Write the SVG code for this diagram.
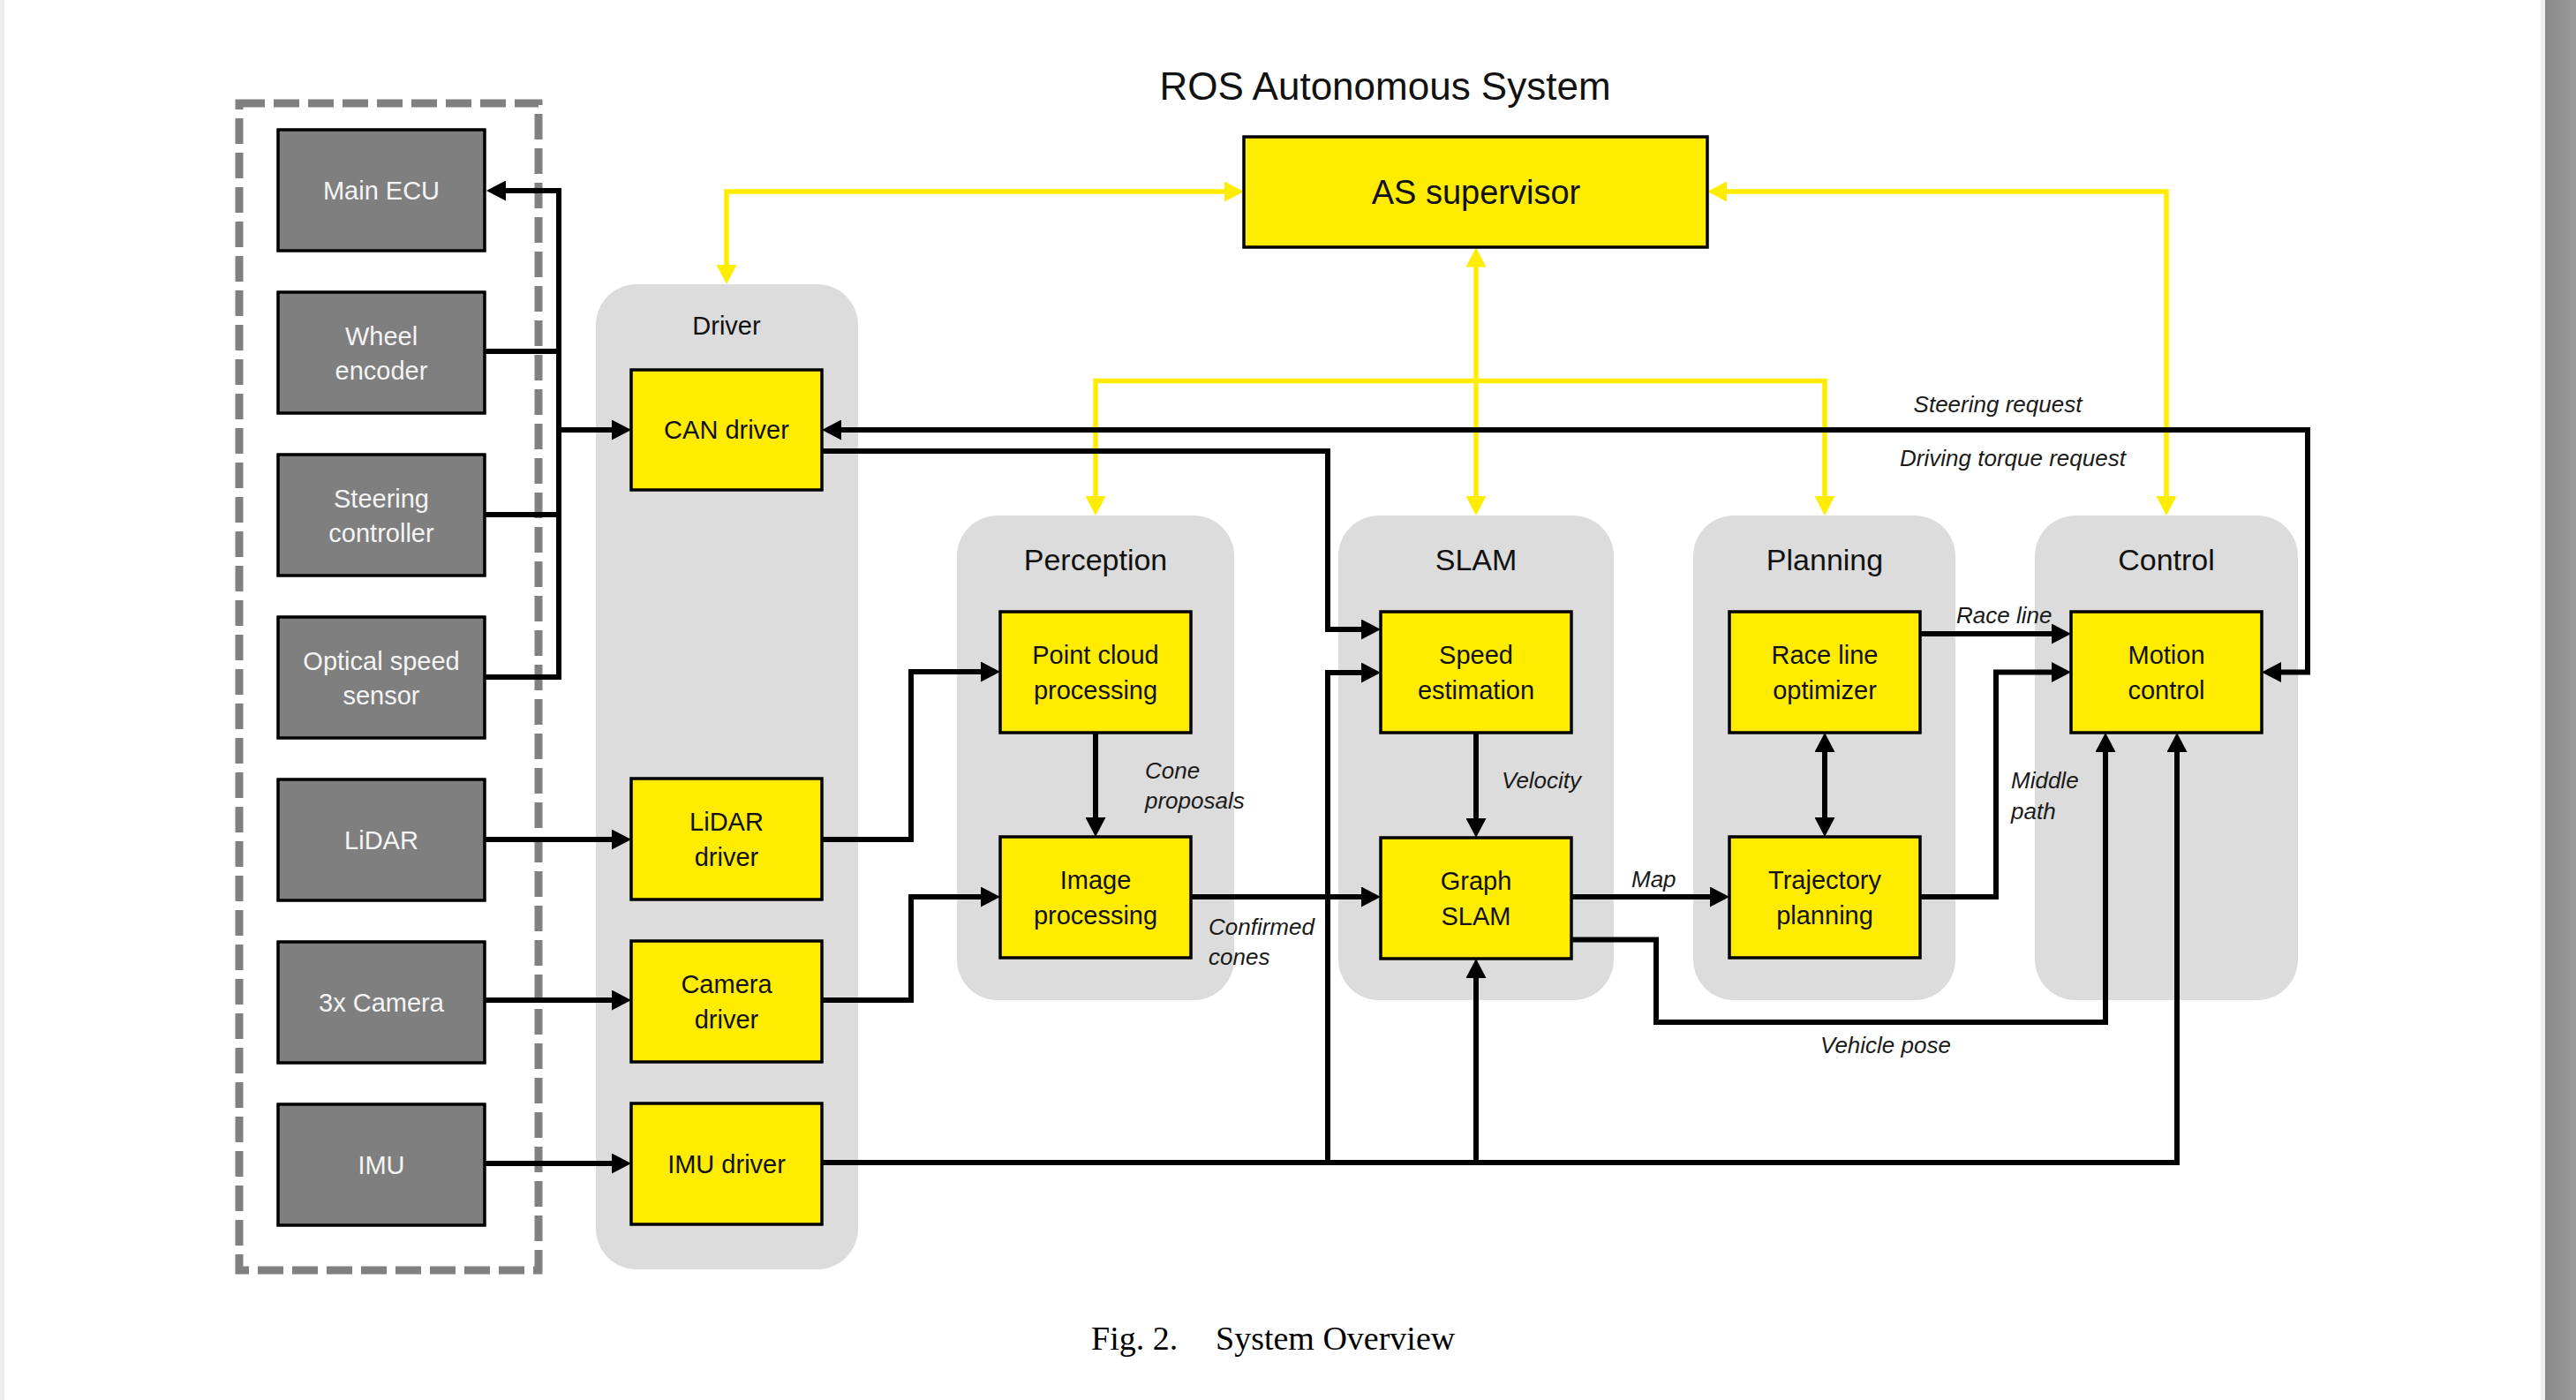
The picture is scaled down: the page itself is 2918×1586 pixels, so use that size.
<svg xmlns="http://www.w3.org/2000/svg" width="2918" height="1586" viewBox="0 0 2918 1586">
<defs>
  <linearGradient id="edge" x1="0" y1="0" x2="1" y2="0">
    <stop offset="0" stop-color="#898989"/>
    <stop offset="1" stop-color="#9a9a9a"/>
  </linearGradient>
  <marker id="ab" viewBox="0 0 22 23" refX="16" refY="11.5" markerWidth="22" markerHeight="23" markerUnits="userSpaceOnUse" orient="auto-start-reverse">
    <path d="M0,0 L22,11.5 L0,23 z" fill="#000"/>
  </marker>
  <marker id="ay" viewBox="0 0 22 23" refX="16" refY="11.5" markerWidth="22" markerHeight="23" markerUnits="userSpaceOnUse" orient="auto-start-reverse">
    <path d="M0,0 L22,11.5 L0,23 z" fill="#ffed00"/>
  </marker>
</defs>
<style>
  text{font-family:"Liberation Sans",Arial,sans-serif}
  .grp rect{fill:#dcdcdc}
  .grp text{font-size:34px;fill:#111;text-anchor:middle}
  .hw rect{fill:#7f7f7f;stroke:#000;stroke-width:3.5}
  .hw text{fill:#f4f4f4;font-size:29px;text-anchor:middle}
  .sw rect{fill:#ffec00;stroke:#000;stroke-width:3.5}
  .sw text{fill:#111;font-size:29px;text-anchor:middle}
  .bl{fill:none;stroke:#000;stroke-width:6}
  .yl{fill:none;stroke:#ffed00;stroke-width:5.5}
  .el{font-style:italic;font-size:26px;fill:#1a1a1a}
  .cap{font-family:"Liberation Serif","Times New Roman",serif;font-size:38px;fill:#000}
</style>

<rect x="0" y="0" width="2918" height="1586" fill="#ffffff"/>
<rect x="0" y="0" width="5" height="1586" fill="#eeeeee"/>
<rect x="2878" y="0" width="5" height="1586" fill="#efefef"/>
<rect x="2883" y="0" width="35" height="1586" fill="url(#edge)"/>

<text x="1569" y="113" style="font-size:44px" text-anchor="middle" fill="#111">ROS Autonomous System</text>

<!-- hardware dashed container -->
<rect id="hardware-frame" x="271" y="117" width="339" height="1322" fill="none" stroke="#808080" stroke-width="9" stroke-dasharray="29 10"/>

<!-- container groups -->
<g id="driver" class="grp"><rect x="675" y="322" width="297" height="1116" rx="46"/><text x="823" y="379" style="font-size:29px">Driver</text></g>
<g id="perception" class="grp"><rect x="1084" y="584" width="314" height="549" rx="46"/><text x="1241" y="646">Perception</text></g>
<g id="slam" class="grp"><rect x="1516" y="584" width="312" height="549" rx="46"/><text x="1672" y="646">SLAM</text></g>
<g id="planning" class="grp"><rect x="1918" y="584" width="297" height="549" rx="46"/><text x="2067" y="646">Planning</text></g>
<g id="control" class="grp"><rect x="2305" y="584" width="298" height="549" rx="46"/><text x="2454" y="646">Control</text></g>

<!-- connectors -->
<g id="connectors">
  <g id="yellow-links">
    <path class="yl" d="M1403,217 H823 V316" marker-start="url(#ay)" marker-end="url(#ay)"/>
    <path class="yl" d="M1940,217 H2454 V578" marker-start="url(#ay)" marker-end="url(#ay)"/>
    <path class="yl" d="M1672,286.5 V578" marker-start="url(#ay)" marker-end="url(#ay)"/>
    <path class="yl" d="M1241,578 V431.6 H2067 V578" marker-start="url(#ay)" marker-end="url(#ay)"/>
  </g>
  <g id="black-links">
    <path class="bl" d="M633,767 V216 H557" marker-end="url(#ab)"/>
    <path class="bl" d="M549,398 H633"/>
    <path class="bl" d="M549,583 H633"/>
    <path class="bl" d="M549,767 H636"/>
    <path class="bl" d="M633,487 H709" marker-end="url(#ab)"/>
    <path class="bl" d="M549,951 H709" marker-end="url(#ab)"/>
    <path class="bl" d="M549,1133 H709" marker-end="url(#ab)"/>
    <path class="bl" d="M549,1318 H709" marker-end="url(#ab)"/>
    <path class="bl" d="M931,951 H1032 V761 H1127" marker-end="url(#ab)"/>
    <path class="bl" d="M931,1133 H1032 V1016 H1127" marker-end="url(#ab)"/>
    <path class="bl" d="M1241,830 V942" marker-end="url(#ab)"/>
    <path class="bl" d="M1349,1016 H1558" marker-end="url(#ab)"/>
    <path class="bl" d="M931,511 H1504 V713 H1558" marker-end="url(#ab)"/>
    <path class="bl" d="M931,1317 H2466 V836" marker-end="url(#ab)"/>
    <path class="bl" d="M1504,1317 V762 H1558" marker-end="url(#ab)"/>
    <path class="bl" d="M1672,1317 V1092" marker-end="url(#ab)"/>
    <path class="bl" d="M1672,830 V943" marker-end="url(#ab)"/>
    <path class="bl" d="M1780,1016 H1953" marker-end="url(#ab)"/>
    <path class="bl" d="M1780,1064.5 H1876 V1158 H2385 V836" marker-end="url(#ab)"/>
    <path class="bl" d="M2067,836 V942" marker-start="url(#ab)" marker-end="url(#ab)"/>
    <path class="bl" d="M2175,718 H2340" marker-end="url(#ab)"/>
    <path class="bl" d="M2175,1016 H2261 V761.5 H2340" marker-end="url(#ab)"/>
    <path class="bl" d="M937,487 H2614 V761.5 H2568" marker-start="url(#ab)" marker-end="url(#ab)"/>
  </g>
  <g id="edge-labels">
    <text class="el" x="2263" y="467" text-anchor="middle">Steering request</text>
    <text class="el" x="2280" y="528" text-anchor="middle">Driving torque request</text>
    <text class="el" x="2216" y="706">Race line</text>
    <text class="el" x="2278" y="893">Middle</text>
    <text class="el" x="2278" y="928">path</text>
    <text class="el" x="1701" y="893">Velocity</text>
    <text class="el" x="1297" y="882">Cone</text>
    <text class="el" x="1297" y="916">proposals</text>
    <text class="el" x="1369" y="1059">Confirmed</text>
    <text class="el" x="1369" y="1093">cones</text>
    <text class="el" x="1848" y="1005">Map</text>
    <text class="el" x="2062" y="1193">Vehicle pose</text>
  </g>
</g>

<!-- hardware nodes -->
<g id="main-ecu" class="hw"><rect x="315" y="147" width="234" height="137"/><text x="432" y="226">Main ECU</text></g>
<g id="wheel-encoder" class="hw"><rect x="315" y="331" width="234" height="137"/><text x="432" y="391">Wheel</text><text x="432" y="430">encoder</text></g>
<g id="steering-controller" class="hw"><rect x="315" y="515" width="234" height="137"/><text x="432" y="575">Steering</text><text x="432" y="614">controller</text></g>
<g id="optical-speed-sensor" class="hw"><rect x="315" y="699" width="234" height="137"/><text x="432" y="759">Optical speed</text><text x="432" y="798">sensor</text></g>
<g id="lidar" class="hw"><rect x="315" y="883" width="234" height="137"/><text x="432" y="962">LiDAR</text></g>
<g id="camera" class="hw"><rect x="315" y="1067" width="234" height="137"/><text x="432" y="1146">3x Camera</text></g>
<g id="imu" class="hw"><rect x="315" y="1251" width="234" height="137"/><text x="432" y="1330">IMU</text></g>

<!-- software nodes -->
<g id="as-supervisor" class="sw"><rect x="1409" y="155" width="525" height="125"/><text x="1672" y="231" style="font-size:38px">AS supervisor</text></g>
<g id="can-driver" class="sw"><rect x="715" y="419" width="216" height="136"/><text x="823" y="497">CAN driver</text></g>
<g id="lidar-driver" class="sw"><rect x="715" y="882" width="216" height="137"/><text x="823" y="941">LiDAR</text><text x="823" y="981">driver</text></g>
<g id="camera-driver" class="sw"><rect x="715" y="1066" width="216" height="137"/><text x="823" y="1125">Camera</text><text x="823" y="1165">driver</text></g>
<g id="imu-driver" class="sw"><rect x="715" y="1250" width="216" height="137"/><text x="823" y="1329">IMU driver</text></g>
<g id="point-cloud-processing" class="sw"><rect x="1133" y="693" width="216" height="137"/><text x="1241" y="752">Point cloud</text><text x="1241" y="792">processing</text></g>
<g id="image-processing" class="sw"><rect x="1133" y="948" width="216" height="137"/><text x="1241" y="1007">Image</text><text x="1241" y="1047">processing</text></g>
<g id="speed-estimation" class="sw"><rect x="1564" y="693" width="216" height="137"/><text x="1672" y="752">Speed</text><text x="1672" y="792">estimation</text></g>
<g id="graph-slam" class="sw"><rect x="1564" y="949" width="216" height="137"/><text x="1672" y="1008">Graph</text><text x="1672" y="1048">SLAM</text></g>
<g id="race-line-optimizer" class="sw"><rect x="1959" y="693" width="216" height="137"/><text x="2067" y="752">Race line</text><text x="2067" y="792">optimizer</text></g>
<g id="trajectory-planning" class="sw"><rect x="1959" y="948" width="216" height="137"/><text x="2067" y="1007">Trajectory</text><text x="2067" y="1047">planning</text></g>
<g id="motion-control" class="sw"><rect x="2346" y="693" width="216" height="137"/><text x="2454" y="752">Motion</text><text x="2454" y="792">control</text></g>

<text class="cap" x="1236" y="1529">Fig. 2.</text>
<text class="cap" x="1377" y="1529">System Overview</text>
</svg>
